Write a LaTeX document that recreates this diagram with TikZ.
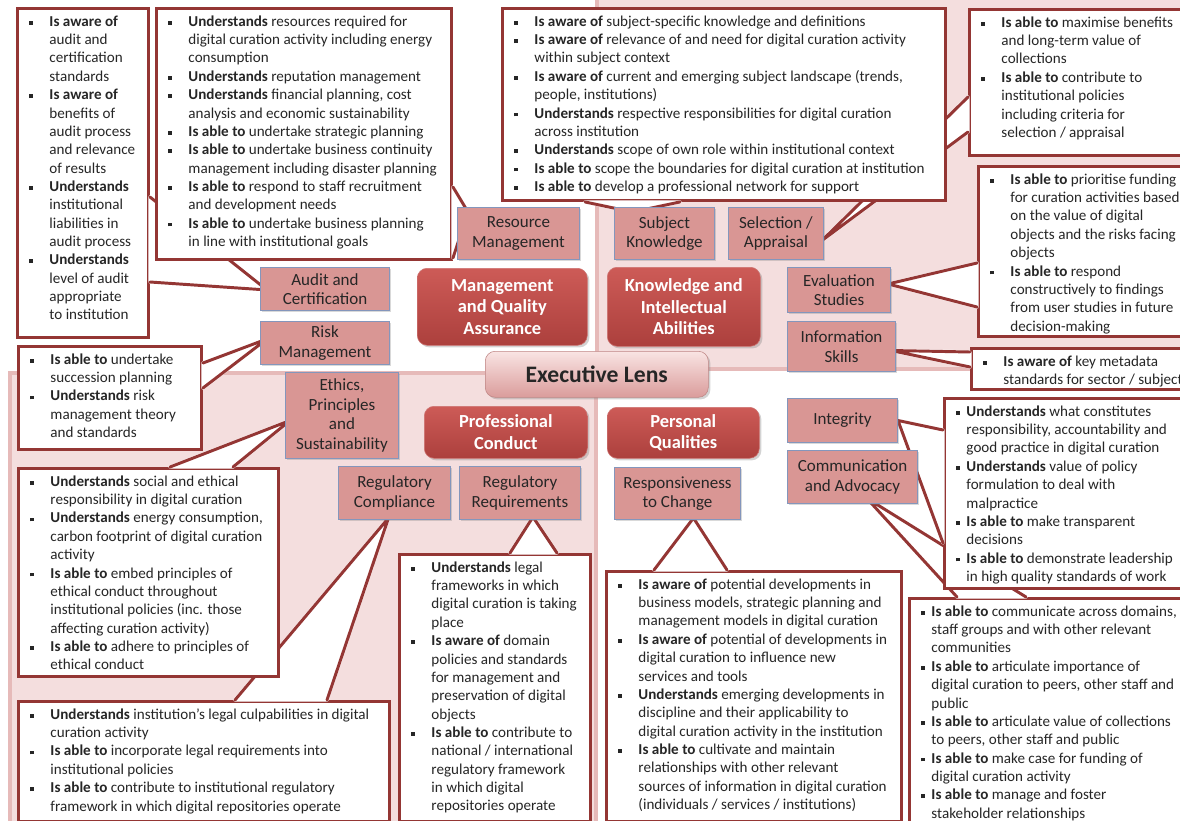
\documentclass[tikz,border=0pt]{standalone}
\usepackage{fontspec}
\setmainfont{Carlito}
\usetikzlibrary{positioning, shadows, backgrounds}

\definecolor{calred}{HTML}{943634}
\definecolor{boxpink}{HTML}{D99694}
\definecolor{boxedge}{HTML}{8496BC}
\definecolor{corered}{HTML}{C0504D}
\definecolor{coretop}{HTML}{CD5B57}
\definecolor{coredark}{HTML}{AC403D}
\definecolor{panelpink}{HTML}{F4DEDE}
\definecolor{paneledge}{HTML}{E6BAB9}
\definecolor{lenstop}{HTML}{F9E4E3}
\definecolor{lensbot}{HTML}{DA9C9B}

\newdimen\px \px=0.025cm
\newcommand{\sqbul}{\rule[1.1pt]{2.8pt}{2.8pt}}
\newcommand{\cbox}[3]{\parbox[c][#2\px][t]{#1\px}{#3}}
\newenvironment{blist}[1][20]{\begin{tabular}[t]{@{}p{#1\px}@{}l@{}}}{\end{tabular}}
\newcommand{\callptr}[3]{%
  \fill[white, draw=white, line width=2.4pt, line join=round] #1 -- #2 -- #3 -- cycle;
  \draw[calline] #1 -- #2 -- #3;}

\pgfdeclarelayer{callout}
\pgfsetlayers{background,callout,main}

\tikzset{
    panel/.style={fill=panelpink, draw=paneledge, line width=3pt},
    callbox/.style={rectangle, draw=calred, line width=2.1pt, fill=white, anchor=north west, inner xsep=8.54pt, inner ysep=3.56pt, font=\fontsize{10.74}{13.04}\selectfont, text=black!85},
    calline/.style={draw=calred, line width=2.1pt, line join=round, line cap=round},
    sz/.style 2 args={minimum width=#1*0.025cm, minimum height=#2*0.025cm},
    skill/.style={rectangle, draw=boxedge, line width=0.7pt, fill=boxpink, inner sep=0pt, anchor=north west, align=center, font=\fontsize{12.1}{13.8}\selectfont, text=black!85, drop shadow={shadow xshift=1.2pt, shadow yshift=-1.2pt, opacity=.3}},
    core/.style={rectangle, rounded corners=7pt, draw=corered!80!white, top color=coretop, bottom color=coredark, inner sep=0pt, anchor=north west, align=center, text=white, font=\fontsize{13.1}{15.4}\selectfont\bfseries, drop shadow={shadow xshift=1.5pt, shadow yshift=-1.5pt, opacity=.35}},
    lens/.style={rectangle, rounded corners=7pt, draw=calred!60, top color=lenstop, bottom color=lensbot, inner sep=0pt, anchor=north west, text=black!85, font=\fontsize{16.8}{20}\selectfont\bfseries, drop shadow={shadow xshift=1.5pt, shadow yshift=-1.5pt, opacity=.35}}
}

\begin{document}
\begin{tikzpicture}[x=0.025cm, y=-0.025cm]
    \useasboundingbox (0,0) rectangle (1180,821);

    % --- LENSES IN THE CENTRE ---
    \node[core, sz={170}{77}] (mqa) at (417,268) {Management\\and Quality\\Assurance};
    \node[core, sz={153}{79}] (kia) at (607,267) {Knowledge and\\Intellectual\\Abilities};
    \node[lens, sz={223}{46}] (exec) at (485,351) {Executive Lens};
    \node[core, sz={163}{52}] (profc) at (424,406) {Professional\\Conduct};
    \node[core, sz={152}{51}] (persq) at (607,407) {Personal\\Qualities};

    % --- SKILL AREAS ---
    \node[skill, sz={122}{52}] (resmgmt) at (457,207) {Resource\\Management};
    \node[skill, sz={100}{52}] (subjknow) at (614,207) {Subject\\Knowledge};
    \node[skill, sz={95}{52}, right=0.325cm of subjknow] (selapp) {Selection /\\Appraisal};
    \node[skill, sz={129}{43}] (audit) at (260,267) {Audit and\\Certification};
    \node[skill, sz={129}{43}, below=0.25cm of audit] (risk) {Risk\\Management};
    \node[skill, sz={103}{45}] (evalst) at (787,267) {Evaluation\\Studies};
    \node[skill, sz={108}{50}] (infosk) at (787,321) {Information\\Skills};
    \node[skill, sz={113}{86}] (ethics) at (285,372) {Ethics,\\Principles\\and\\Sustainability};
    \node[skill, sz={112}{53}] (regcomp) at (338,466) {Regulatory\\Compliance};
    \node[skill, sz={121}{53}, right=0.2cm of regcomp] (regreq) {Regulatory\\Requirements};
    \node[skill, sz={126}{52}] (respch) at (614,467) {Responsiveness\\to Change};
    \node[skill, sz={110}{44}] (integ) at (787,398) {Integrity};
    \node[skill, sz={130}{53}] (commadv) at (787,450) {Communication\\and Advocacy};

    % --- CALLOUTS ---
    \begin{pgfonlayer}{callout}
    % Selection / Appraisal
    \node[callbox] (boxD) at (968,8) {\cbox{206}{136}{\begin{blist}
        \sqbul & \textbf{Is able to} maximise benefits\\
               & and long-term value of\\
               & collections\\
        \sqbul & \textbf{Is able to} contribute to\\
               & institutional policies\\
               & including criteria for\\
               & selection / appraisal
    \end{blist}}};
    \callptr{([shift={(0,89)}]boxD.north west)}{([shift={(-2,7)}]selapp.east)}{([shift={(0,124)}]boxD.north west)}

    % Subject Knowledge
    \node[callbox] (boxC) at (501,7) {\cbox{419}{182}{\begin{blist}
        \sqbul & \textbf{Is aware of} subject-specific knowledge and definitions\\
        \sqbul & \textbf{Is aware of} relevance of and need for digital curation activity\\
               & within subject context\\
        \sqbul & \textbf{Is aware of} current and emerging subject landscape (trends,\\
               & people, institutions)\\
        \sqbul & \textbf{Understands} respective responsibilities for digital curation\\
               & across institution\\
        \sqbul & \textbf{Understands} scope of own role within institutional context\\
        \sqbul & \textbf{Is able to} scope the boundaries for digital curation at institution\\
        \sqbul & \textbf{Is able to} develop a professional network for support
    \end{blist}}};
    \callptr{([shift={(84,0)}]boxC.south west)}{([shift={(-32,5)}]subjknow.north)}{([shift={(179,0)}]boxC.south west)}

    % Audit and Certification
    \node[callbox] (boxA) at (16,7) {\cbox{107}{319}{\begin{blist}
        \sqbul & \textbf{Is aware of}\\
               & audit and\\
               & certification\\
               & standards\\
        \sqbul & \textbf{Is aware of}\\
               & benefits of\\
               & audit process\\
               & and relevance\\
               & of results\\
        \sqbul & \textbf{Understands}\\
               & institutional\\
               & liabilities in\\
               & audit process\\
        \sqbul & \textbf{Understands}\\
               & level of audit\\
               & appropriate\\
               & to institution
    \end{blist}}};
    \callptr{([shift={(0,190)}]boxA.north east)}{([shift={(7,1)}]audit.west)}{([shift={(0,275)}]boxA.north east)}

    % Resource Management
    \node[callbox] (boxB) at (155,7) {\cbox{271}{241}{\begin{blist}
        \sqbul & \textbf{Understands} resources required for\\
               & digital curation activity including energy\\
               & consumption\\
        \sqbul & \textbf{Understands} reputation management\\
        \sqbul & \textbf{Understands} financial planning, cost\\
               & analysis and economic sustainability\\
        \sqbul & \textbf{Is able to} undertake strategic planning\\
        \sqbul & \textbf{Is able to} undertake business continuity\\
               & management including disaster planning\\
        \sqbul & \textbf{Is able to} respond to staff recruitment\\
               & and development needs\\
        \sqbul & \textbf{Is able to} undertake business planning\\
               & in line with institutional goals
    \end{blist}}};
    \callptr{([shift={(0,180)}]boxB.north east)}{([shift={(11,5)}]resmgmt.north west)}{([shift={(0,-3)}]boxB.south east)}

    % Evaluation Studies
    \node[callbox] (boxE) at (977,165) {\cbox{196}{160}{\begin{blist}
        \sqbul & \textbf{Is able to} prioritise funding\\
               & for curation activities based\\
               & on the value of digital\\
               & objects and the risks facing\\
               & objects\\
        \sqbul & \textbf{Is able to} respond\\
               & constructively to findings\\
               & from user studies in future\\
               & decision-making
    \end{blist}}};
    \callptr{([shift={(0,98)}]boxE.north west)}{([shift={(-3,-6)}]evalst.east)}{([shift={(0,142)}]boxE.north west)}

    % Information Skills
    \node[callbox] (boxF) at (970,347) {\cbox{206}{31}{\begin{blist}
        \sqbul & \textbf{Is aware of} key metadata\\
               & standards for sector / subject
    \end{blist}}};
    \callptr{([shift={(0,5)}]boxF.north west)}{([shift={(-5,4)}]infosk.east)}{([shift={(0,20)}]boxF.north west)}

    % Communication and Advocacy
    \node[callbox] (boxH) at (908,597) {\cbox{266}{230}{\begin{blist}[10]
        \sqbul & \textbf{Is able to} communicate across domains,\\
               & staff groups and with other relevant\\
               & communities\\
        \sqbul & \textbf{Is able to} articulate importance of\\
               & digital curation to peers, other staff and\\
               & public\\
        \sqbul & \textbf{Is able to} articulate value of collections\\
               & to peers, other staff and public\\
        \sqbul & \textbf{Is able to} make case for funding of\\
               & digital curation activity\\
        \sqbul & \textbf{Is able to} manage and foster\\
               & stakeholder relationships
    \end{blist}}};
    \callptr{([shift={(49,0)}]boxH.north west)}{([shift={(14,-6)}]commadv.south)}{([shift={(118,0)}]boxH.north west)}

    % Integrity
    \node[callbox] (boxG) at (943,397) {\cbox{226}{180}{\begin{blist}[10]
        \sqbul & \textbf{Understands} what constitutes\\
               & responsibility, accountability and\\
               & good practice in digital curation\\
        \sqbul & \textbf{Understands} value of policy\\
               & formulation to deal with\\
               & malpractice\\
        \sqbul & \textbf{Is able to} make transparent\\
               & decisions\\
        \sqbul & \textbf{Is able to} demonstrate leadership\\
               & in high quality standards of work
    \end{blist}}};
    \callptr{([shift={(0,33)}]boxG.north west)}{(integ.east)}{([shift={(0,146)}]boxG.north west)}

    % Regulatory Compliance
    \node[callbox] (boxK) at (17,700) {\cbox{347}{110}{\begin{blist}
        \sqbul & \textbf{Understands} institution’s legal culpabilities in digital\\
               & curation activity\\
        \sqbul & \textbf{Is able to} incorporate legal requirements into\\
               & institutional policies\\
        \sqbul & \textbf{Is able to} contribute to institutional regulatory\\
               & framework in which digital repositories operate
    \end{blist}}};
    \callptr{([shift={(218,0)}]boxK.north west)}{([shift={(-6,-2)}]regcomp.south)}{([shift={(310,0)}]boxK.north west)}

    % Ethics, Principles and Sustainability
    \node[callbox] (boxL) at (17,467) {\cbox{236}{198}{\begin{blist}
        \sqbul & \textbf{Understands} social and ethical\\
               & responsibility in digital curation\\
        \sqbul & \textbf{Understands} energy consumption,\\
               & carbon footprint of digital curation\\
               & activity\\
        \sqbul & \textbf{Is able to} embed principles of\\
               & ethical conduct throughout\\
               & institutional policies (inc. those\\
               & affecting curation activity)\\
        \sqbul & \textbf{Is able to} adhere to principles of\\
               & ethical conduct
    \end{blist}}};
    \callptr{([shift={(153,0)}]boxL.north west)}{([shift={(5,5)}]ethics.west)}{([shift={(216,0)}]boxL.north west)}

    % Risk Management
    \node[callbox] (boxM) at (17,345) {\cbox{159}{93}{\begin{blist}
        \sqbul & \textbf{Is able to} undertake\\
               & succession planning\\
        \sqbul & \textbf{Understands} risk\\
               & management theory\\
               & and standards
    \end{blist}}};
    \callptr{([shift={(0,18)}]boxM.north east)}{([shift={(7,-4)}]risk.west)}{([shift={(0,43)}]boxM.north east)}

    % Regulatory Requirements
    \node[callbox] (boxJ) at (398,553) {\cbox{167}{257}{\begin{blist}
        \sqbul & \textbf{Understands} legal\\
               & frameworks in which\\
               & digital curation is taking\\
               & place\\
        \sqbul & \textbf{Is aware of} domain\\
               & policies and standards\\
               & for management and\\
               & preservation of digital\\
               & objects\\
        \sqbul & \textbf{Is able to} contribute to\\
               & national / international\\
               & regulatory framework\\
               & in which digital\\
               & repositories operate
    \end{blist}}};
    \callptr{([shift={(112,0)}]boxJ.north west)}{([shift={(13,-3)}]regreq.south)}{([shift={(159,0)}]boxJ.north west)}

    % Responsiveness to Change
    \node[callbox] (boxI) at (605,570) {\cbox{271}{240}{\begin{blist}
        \sqbul & \textbf{Is aware of} potential developments in\\
               & business models, strategic planning and\\
               & management models in digital curation\\
        \sqbul & \textbf{Is aware of} potential of developments in\\
               & digital curation to influence new\\
               & services and tools\\
        \sqbul & \textbf{Understands} emerging developments in\\
               & discipline and their applicability to\\
               & digital curation activity in the institution\\
        \sqbul & \textbf{Is able to} cultivate and maintain\\
               & relationships with other relevant\\
               & sources of information in digital curation\\
               & (individuals / services / institutions)
    \end{blist}}};
    \callptr{([shift={(49,0)}]boxI.north west)}{([shift={(16,-2)}]respch.south)}{([shift={(122,0)}]boxI.north west)}
    \end{pgfonlayer}

    % --- QUADRANT PANELS ---
    \begin{pgfonlayer}{background}
    \draw[panel] (597,-5) rectangle (1190,369);
    \draw[panel] (10,373) rectangle (596,830);
    \end{pgfonlayer}

\end{tikzpicture}
\end{document}
